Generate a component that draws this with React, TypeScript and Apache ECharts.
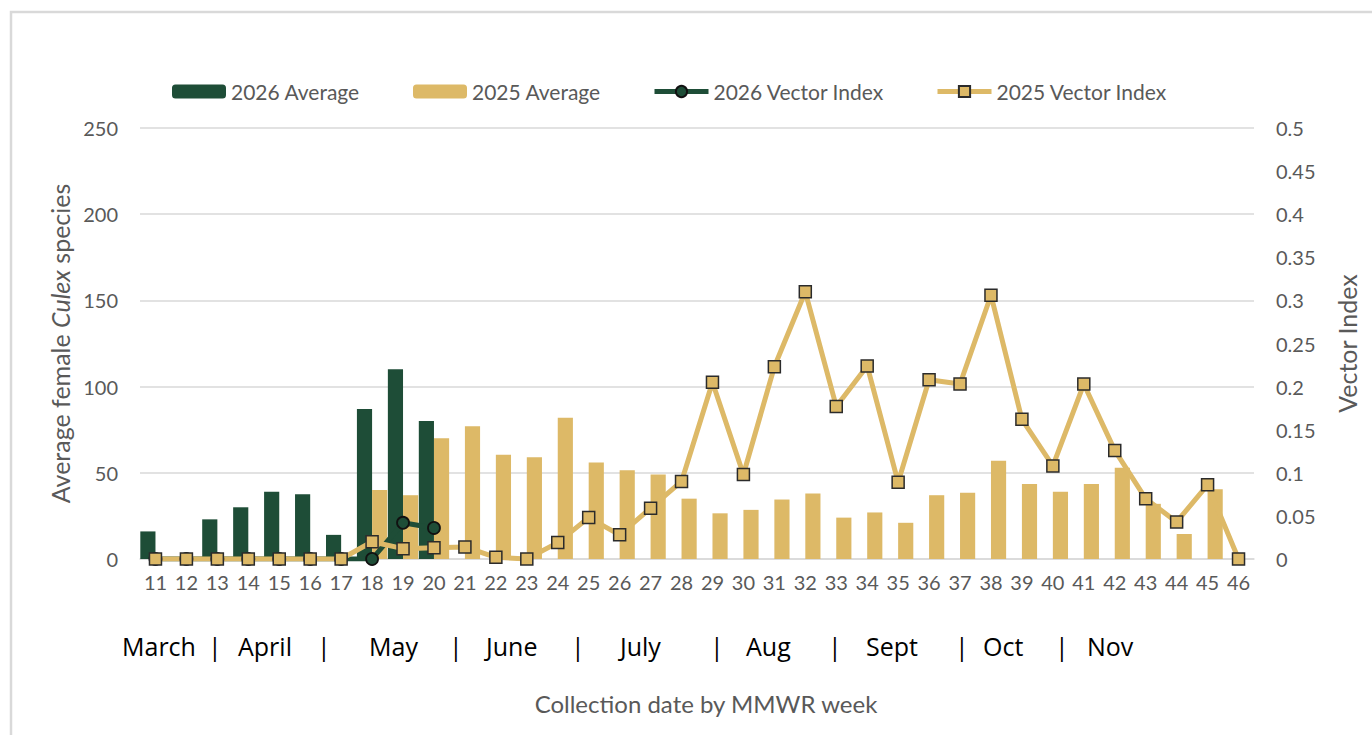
import React, { useEffect, useRef } from "react";
import * as echarts from "echarts";

const weeks = [
  "11","12","13","14","15","16","17","18","19","20","21","22","23","24","25","26","27","28",
  "29","30","31","32","33","34","35","36","37","38","39","40","41","42","43","44","45","46",
];

const avg2026 = [16, 0, 23, 30, 39, 37.5, 14, 87, 110, 80];
const avg2025 = [
  0, 0, 0, 0, 0, 0, 0, 40, 37, 70, 77, 60.5, 59, 82, 56, 51.5, 49, 35,
  26.5, 28.5, 34.5, 38, 24, 27, 21, 37, 38.5, 57, 43.5, 39, 43.5, 53, 32, 14.5, 40.5, 0,
];
const vi2026 = [0, 0, 0, 0, 0, 0, 0, 0, 0.042, 0.036];
const vi2025 = [
  0, 0, 0, 0, 0, 0, 0, 0.02, 0.012, 0.013, 0.014, 0.002, 0, 0.019, 0.048, 0.028, 0.059, 0.09,
  0.205, 0.098, 0.223, 0.31, 0.177, 0.224, 0.089, 0.208, 0.203, 0.306, 0.162, 0.108, 0.203, 0.126,
  0.07, 0.043, 0.086, 0,
];

const seriesNames = ["2026 Average", "2025 Average", "2026 Vector Index", "2025 Vector Index"];
const months = ["March", "April", "May", "June", "July", "Aug", "Sept", "Oct", "Nov"];

// layout (pixel positions of annotation texts)
const monthLeft = [122, 238, 369, 486, 620, 746, 866, 983, 1087];
const pipeX = [211, 320, 452, 574, 713, 831, 958, 1058];
const legendLeft = [172, 413, 652, 935];

const GREEN = "#1E4D37";
const TAN = "#DDB967";
const GRAY = "#595959";
const GRID = "#d9d9d9";
const FONT = "Lato";

export default function App() {
  const ref = useRef<HTMLDivElement>(null);
  useEffect(() => {
    if (!ref.current) return;
    const chart = echarts.init(ref.current, null, { renderer: "svg" });
    const monthTexts = months.map((m, i) => ({
      type: "text",
      left: monthLeft[i],
      top: 633,
      style: { text: m, font: '25px "Open Sans"', fill: "#000" },
    }));
    const pipeTexts = pipeX.map((x) => ({
      type: "text",
      left: x - 3,
      top: 633,
      style: { text: "|", font: '25px "Open Sans"', fill: "#000" },
    }));
    chart.setOption({
      animation: false,
      textStyle: { fontFamily: FONT },
      legend: seriesNames.map((n, i) => ({
        data: [n],
        left: legendLeft[i] - 5,
        top: 76,
        itemWidth: 54,
        itemHeight: 14,
        lineStyle: { width: 5 },
        textStyle: { color: GRAY, fontSize: 21, fontFamily: FONT },
      })),
      grid: { left: 140, right: 118, top: 128, bottom: 176 },
      xAxis: {
        type: "category",
        data: weeks,
        axisTick: { show: false },
        axisLine: { lineStyle: { color: GRID, width: 1.5 } },
        axisLabel: { color: GRAY, fontSize: 20, margin: 13, interval: 0, fontFamily: FONT },
        name: "Collection date by MMWR week",
        nameLocation: "middle",
        nameGap: 132,
        nameTextStyle: { color: GRAY, fontSize: 24, fontFamily: FONT, padding: [0, 0, 0, 18] },
      },
      yAxis: [
        {
          type: "value",
          min: 0,
          max: 250,
          interval: 50,
          axisLine: { show: false },
          axisTick: { show: false },
          splitLine: { lineStyle: { color: GRID, width: 1.5 } },
          axisLabel: { color: GRAY, fontSize: 20, margin: 22, fontFamily: FONT },
          name: "{a|Average female }{b|Culex}{a| species}",
          nameLocation: "middle",
          nameRotate: 90,
          nameGap: 68,
          nameTextStyle: {
            rich: {
              a: { color: GRAY, fontSize: 25, fontFamily: FONT },
              b: { color: GRAY, fontSize: 25, fontFamily: FONT, fontStyle: "italic" },
            },
          },
        },
        {
          type: "value",
          min: 0,
          max: 0.5,
          interval: 0.05,
          position: "right",
          axisLine: { show: false },
          axisTick: { show: false },
          splitLine: { show: false },
          axisLabel: { color: GRAY, fontSize: 20, margin: 22, fontFamily: FONT },
          name: "Vector Index",
          nameLocation: "middle",
          nameRotate: 90,
          nameGap: 80,
          nameTextStyle: { color: GRAY, fontSize: 25, fontFamily: FONT },
        },
      ],
      series: [
        {
          name: seriesNames[0],
          type: "bar",
          data: avg2026,
          itemStyle: { color: GREEN },
          barGap: "0%",
          barCategoryGap: "2%",
        },
        {
          name: seriesNames[1],
          type: "bar",
          data: avg2025,
          itemStyle: { color: TAN },
          barGap: "0%",
          barCategoryGap: "2%",
        },
        {
          name: seriesNames[2],
          type: "line",
          yAxisIndex: 1,
          data: vi2026,
          symbol: "circle",
          symbolSize: 12,
          lineStyle: { color: GREEN, width: 5 },
          itemStyle: { color: GREEN, borderColor: "#111", borderWidth: 1.8 },
        },
        {
          name: seriesNames[3],
          type: "line",
          yAxisIndex: 1,
          data: vi2025,
          symbol: "rect",
          symbolSize: 12,
          lineStyle: { color: TAN, width: 5 },
          itemStyle: { color: TAN, borderColor: "#2b2b2b", borderWidth: 1.5 },
        },
      ],
      graphic: [
        {
          type: "rect",
          shape: { x: 11, y: 12, width: 1400, height: 800 },
          style: { fill: "none", stroke: GRID, lineWidth: 2.5 },
          silent: true,
        },
        ...monthTexts,
        ...pipeTexts,
      ],
    });
    return () => chart.dispose();
  }, []);
  return <div ref={ref} style={{ width: 1372, height: 735, position: "absolute", left: 0, top: 0, background: "#fff" }} />;
}
